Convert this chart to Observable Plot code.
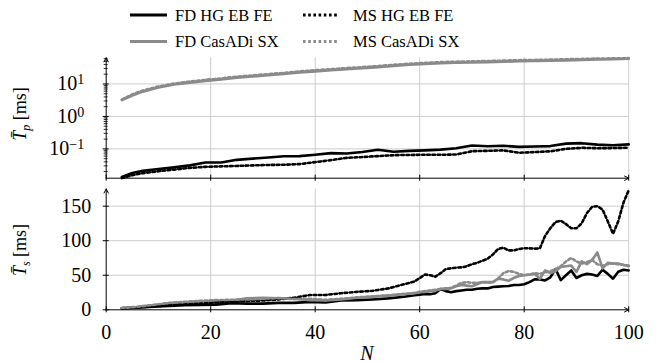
<!DOCTYPE html>
<html><head><meta charset="utf-8">
<script src="https://cdn.jsdelivr.net/npm/d3@7"></script>
<script src="https://cdn.jsdelivr.net/npm/@observablehq/plot@0.6"></script>
<style>
html,body{margin:0;padding:0;background:#fff;}
#wrap{position:relative;width:656px;height:362px;overflow:hidden;font-family:"Liberation Serif","DejaVu Serif",serif;color:#000;}
.abs{position:absolute;}
.ylab{position:absolute;white-space:nowrap;font-size:18px;transform:translate(-50%,-50%) rotate(-90deg);}
.ylab i{font-style:italic;}
.ylab sub{font-size:12px;font-style:italic;vertical-align:-4px;}
#nlab{position:absolute;left:367px;top:353px;transform:translate(-50%,-50%);font-size:20px;font-style:italic;}
svg{display:block;}
</style></head>
<body><div id="wrap">
<svg id="legend" class="abs" style="left:0;top:0" width="656" height="50"></svg>
<div id="topPanel" class="abs" style="left:0;top:50px"></div>
<div id="botPanel" class="abs" style="left:0;top:185px"></div>
<div class="ylab" style="left:22px;top:114px"><i>T&#772;</i><sub>p</sub> [ms]</div>
<div class="ylab" style="left:22px;top:250px"><i>T&#772;</i><sub>s</sub> [ms]</div>
<div id="nlab">N</div>
</div>
<script>
// ---------- data ----------
const SERIES = ["FD HG EB FE", "MS HG EB FE", "FD CasADi SX", "MS CasADi SX"];

// top panel (T_p, ms, log scale)
const N_TOP = [3,5,7,10,13,16,19,22,25,28,31,34,37,40,43,46,49,52,55,58,61,64,67,70,73,76,79,82,85,88,91,94,97,100];
const TP_FD_HG = [0.0136,0.018,0.021,0.024,0.027,0.031,0.038,0.038,0.046,0.05,0.054,0.059,0.06,0.066,0.074,0.072,0.08,0.094,0.082,0.087,0.09,0.095,0.105,0.127,0.12,0.125,0.115,0.118,0.122,0.145,0.15,0.135,0.13,0.138];
const TP_MS_HG = [0.0126,0.0155,0.0178,0.0205,0.023,0.026,0.028,0.029,0.0298,0.031,0.032,0.0325,0.034,0.039,0.045,0.053,0.056,0.06,0.064,0.065,0.066,0.066,0.067,0.085,0.087,0.09,0.076,0.08,0.084,0.1,0.108,0.105,0.106,0.109];
const TP_FD_CAS = [3.2,4.4,5.8,7.8,9.6,11,12.4,13.8,15.5,17,18.6,20.4,22.5,24.5,26.5,28.5,30.5,33,36,39,41.5,43.5,45,46,47,48.5,50,51,52,53.5,54.5,56.5,58,60];
const TP_MS_CAS = [3.3,4.8,6.3,8.4,10.3,11.9,13.4,14.9,16.7,18.4,20.1,22,24.3,26.5,28.6,30.8,33,35.6,38.9,42,44.8,47,48.6,49.7,50.8,52.4,54,55,56.2,57.8,58.9,60.5,61.5,62.5];

// bottom panel (T_s, ms, linear scale)
const N_BOT = [3,6,9,12,15,18,21,24,27,30,33,36,39,42,45,48,51,54,57,59,60,61,62,63,64,65,66,67,68,69,70,71,72,73,74,75,76,77,78,79,80,81,82,83,84,85,86,87,88,89,90,91,92,93,94,95,96,97,98,99,100];
const TS_FD_HG = [2,3,4.5,5.5,6.5,7,7.5,9.5,9,9,10,10,11.5,10.5,13.5,14,15,16.5,19,21,22,23,22.5,24,30,27,25.5,27,28,29,29,30.5,31,31,33,33.5,34,34.5,36,36,37,40,44,44,42.5,47,59,43,50,57,46,50,52,51,49,58,52,45,55,58,57];
const TS_MS_HG = [2.3,3.5,5,6.5,8,9,10.5,12,12.8,13.5,15,17.5,21.5,21.5,24,26,27.5,31,37,41,46,51,50,48,53,59,60,61,61.5,63,66,68,71,74,80,88,90,86,86,88,89,89,88.5,89,107,118,127,129,124,118,118,125,140,149,150,145,128,110,128,155,173];
const TS_FD_CAS = [2.5,4,6.5,9.5,11,12,13,13.5,16.5,17.5,16.5,16,14,13.5,15,17.5,19,20.5,22.5,24,25.5,26,27,28,30,31,31,34,36,35,34,37,40,40,40,45,44,42,46,49,50,51,52,45,57,53,56,62,63,64,55,70,66,72,83,60,68,67,67,65,63];
const TS_MS_CAS = [2.5,4.5,7,10,11.5,13,14,14.5,15,16,17,15.5,16,14.5,16,18,19.5,21,23,24.5,26,27,28,29,30,30,32,35,39,40,39,39,40,39,40,45,53,56,55,52,50,51,53,52,54,56,59,63,70,75,70,67,69,72,66,64,66,67,66,65,64];

// axis ticks / domains
const X_DOMAIN = [0, 100];
const X_TICKS = [0, 20, 40, 60, 80, 100];
const TOP_Y_DOMAIN = [0.0125, 64];
const TOP_Y_TICKS = [0.1, 1, 10];
const BOT_Y_DOMAIN = [0, 175];
const BOT_Y_TICKS = [0, 50, 100, 150];

// ---------- styles ----------
const FONT = '"Liberation Serif", "DejaVu Serif", serif';
const GRAY = "#8a8a8a";
const GRID = "#cccccc";
const DOTS = "2.6,2.6";
const STY = {
  [SERIES[0]]: {stroke: "#000", strokeWidth: 2.6},
  [SERIES[1]]: {stroke: "#000", strokeWidth: 2.6, strokeDasharray: DOTS},
  [SERIES[2]]: {stroke: GRAY, strokeWidth: 2.6},
  [SERIES[3]]: {stroke: GRAY, strokeWidth: 2.6, strokeDasharray: DOTS}
};
const DRAW_ORDER = [SERIES[0], SERIES[2], SERIES[1], SERIES[3]];

function table(nArr, cols) {
  return cols.flatMap(([s, arr]) => arr.map((v, i) => ({N: nArr[i], v, s})));
}
const topRows = table(N_TOP, [[SERIES[0], TP_FD_HG], [SERIES[1], TP_MS_HG], [SERIES[2], TP_FD_CAS], [SERIES[3], TP_MS_CAS]]);
const botRows = table(N_BOT, [[SERIES[0], TS_FD_HG], [SERIES[1], TS_MS_HG], [SERIES[2], TS_FD_CAS], [SERIES[3], TS_MS_CAS]]);

const lineMarks = rows => DRAW_ORDER.map(s =>
  Plot.line(rows.filter(d => d.s === s), {x: "N", y: "v", strokeLinejoin: "round", ...STY[s]}));

const axisLines = yd => [
  {x1: X_DOMAIN[0], y1: yd[0], x2: X_DOMAIN[0], y2: yd[1]},
  {x1: X_DOMAIN[0], y1: yd[0], x2: X_DOMAIN[1], y2: yd[0]}
];
const arrowMark = yd => Plot.arrow(axisLines(yd), {x1: "x1", y1: "y1", x2: "x2", y2: "y2", stroke: "#000", strokeWidth: 1, headLength: 7, headAngle: 55});

const TOP_MINOR = [];
for (const e of [-2, -1, 0, 1]) for (let m = 2; m <= 9; m++) {
  const v = m * Math.pow(10, e);
  if (v >= TOP_Y_DOMAIN[0] && v <= TOP_Y_DOMAIN[1]) TOP_MINOR.push(v);
}

const common = {
  width: 656, marginLeft: 105.7, marginRight: 27.8,
  x: {domain: X_DOMAIN},
  style: {fontFamily: FONT, fontSize: "20px", color: "#000", background: "transparent", overflow: "visible"}
};

const topPlot = Plot.plot({
  ...common,
  height: 135, marginTop: 7.3, marginBottom: 7.3,
  y: {type: "log", domain: TOP_Y_DOMAIN},
  marks: [
    Plot.gridX({ticks: X_TICKS.slice(1), stroke: GRID, strokeOpacity: 1}),
    Plot.gridY({ticks: TOP_Y_TICKS, stroke: GRID, strokeOpacity: 1}),
    ...lineMarks(topRows),
    Plot.axisY({ticks: TOP_MINOR, tickSize: 4, dx: 2, text: null, label: null, strokeWidth: 0.8}),
    Plot.axisY({ticks: TOP_Y_TICKS, tickSize: 6, dx: 3, text: null, label: null}),
    Plot.axisY({ticks: TOP_Y_TICKS, tickSize: 0, tickPadding: 22, label: null, tickFormat: d => "10^" + Math.round(Math.log10(d))}),
    Plot.axisX({ticks: X_TICKS, tickSize: 6, dy: -3, text: null, label: null}),
    arrowMark(TOP_Y_DOMAIN)
  ]
});

const botPlot = Plot.plot({
  ...common,
  height: 177, marginTop: 3.4, marginBottom: 52.7,
  y: {domain: BOT_Y_DOMAIN},
  marks: [
    Plot.gridX({ticks: X_TICKS.slice(1), stroke: GRID, strokeOpacity: 1}),
    Plot.gridY({ticks: BOT_Y_TICKS.slice(1), stroke: GRID, strokeOpacity: 1}),
    ...lineMarks(botRows),
    Plot.axisY({ticks: BOT_Y_TICKS, tickSize: 6, dx: 3, text: null, label: null}),
    Plot.axisY({ticks: BOT_Y_TICKS, tickSize: 0, tickPadding: 15, label: null}),
    Plot.axisX({ticks: X_TICKS, tickSize: 6, dy: -3, text: null, label: null}),
    Plot.axisX({ticks: X_TICKS, tickSize: 0, tickPadding: 15, label: null}),
    arrowMark(BOT_Y_DOMAIN)
  ]
});

// superscript exponents for log labels
const NS = "http://www.w3.org/2000/svg";
topPlot.querySelectorAll("text").forEach(t => {
  const m = /^10\^(-?\d+)$/.exec(t.textContent);
  if (!m) return;
  t.textContent = "";
  const a = document.createElementNS(NS, "tspan"); a.textContent = "10";
  const b = document.createElementNS(NS, "tspan");
  b.textContent = m[1].replace("-", "\u2212");
  b.setAttribute("dy", "-0.45em"); b.setAttribute("font-size", "0.7em");
  t.append(a, b);
});

document.getElementById("topPanel").append(topPlot);
document.getElementById("botPanel").append(botPlot);

// legend
const leg = d3.select("#legend");
const LEG = [
  {s: SERIES[0], x: 130, y: 15},
  {s: SERIES[1], x: 303, y: 15},
  {s: SERIES[2], x: 130, y: 41.5},
  {s: SERIES[3], x: 303, y: 41.5}
];
LEG.forEach(({s, x, y}) => {
  const st = STY[s];
  const ln = leg.append("line").attr("x1", x).attr("x2", x + (st.strokeDasharray ? 35 : 37))
    .attr("y1", y).attr("y2", y).attr("stroke", st.stroke).attr("stroke-width", 3);
  if (st.strokeDasharray) ln.attr("stroke-dasharray", DOTS);
  leg.append("text").attr("x", x + (st.strokeDasharray ? 50 : 45)).attr("y", y).attr("dy", "0.35em")
    .attr("font-family", FONT).attr("font-size", "16.5px").text(s);
});
</script>
</body></html>
